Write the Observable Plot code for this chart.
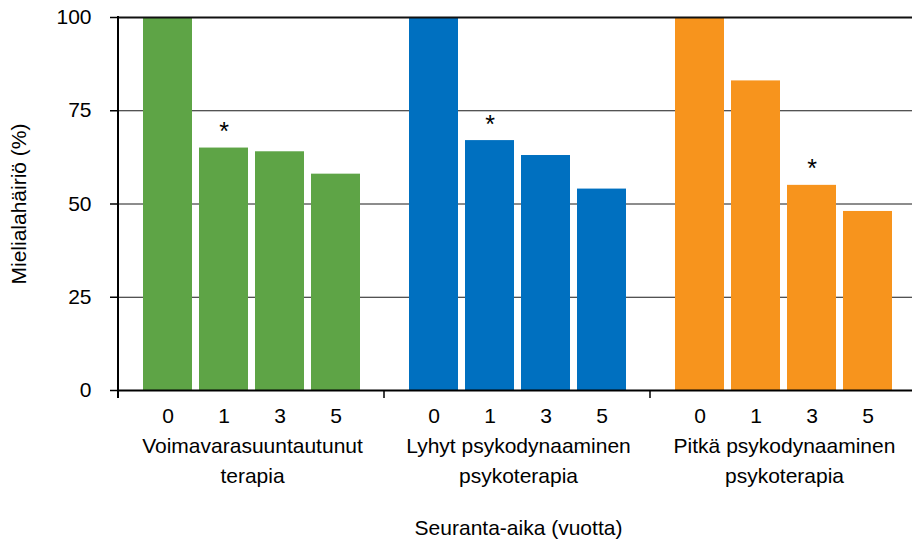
<!DOCTYPE html>
<html>
<head>
<meta charset="utf-8">
<script src="https://cdn.jsdelivr.net/npm/d3@7"></script>
<script src="https://cdn.jsdelivr.net/npm/@observablehq/plot@0.6"></script>
<style>
  html, body { margin: 0; padding: 0; background: #fff; overflow: hidden; }
  #chart { width: 912px; height: 544px; overflow: hidden; }
  #chart svg { max-width: none !important; }
</style>
</head>
<body>
<div id="chart"></div>
<script>
const groups = [
  "Voimavarasuuntautunut\nterapia",
  "Lyhyt psykodynaaminen\npsykoterapia",
  "Pitkä psykodynaaminen\npsykoterapia"
];
const years = ["0", "1", "3", "5"];
const voimavara = [100, 65, 64, 58];
const lyhyt = [100, 67, 63, 54];
const pitka = [100, 83, 55, 48];
const significantYear = ["1", "1", "3"];
const yTicks = [0, 25, 50, 75, 100];
const colors = ["#5ea446", "#0070c0", "#f7941d"];
const yLabel = "Mielialahäiriö (%)";
const xLabel = "Seuranta-aika (vuotta)";

const series = [voimavara, lyhyt, pitka];
const rows = groups.flatMap((g, i) => years.map((yr, j) => ({
  group: g, year: yr, value: series[i][j], star: significantYear[i] === yr ? "*" : ""
})));

const chart = Plot.plot({
  width: 918,
  height: 544,
  marginLeft: 118,
  marginRight: 0,
  marginTop: 17,
  marginBottom: 154,
  style: {fontFamily: "'Liberation Sans', Arial, sans-serif", fontSize: "21px", color: "#000", background: "#fff", maxWidth: "none"},
  fx: {domain: groups, padding: 0, axis: null},
  x: {domain: years, paddingInner: 0.121, paddingOuter: 0.404, axis: null},
  y: {domain: [0, 100], axis: null},
  color: {domain: groups, range: colors},
  marks: [
    Plot.ruleY(yTicks.filter(d => d > 0 && d < 100), {stroke: "#1a1a1a", strokeWidth: 1}),
    Plot.barY(rows, {fx: "group", x: "year", y: "value", fill: "group"}),
    Plot.ruleY(yTicks.filter(d => d === 100), {stroke: "#111", strokeWidth: 2}),
    Plot.ruleY(yTicks.filter(d => d === 0), {stroke: "#000", strokeWidth: 2}),
    Plot.text(rows.filter(d => d.star), {fx: "group", x: "year", y: "value", text: "star", dy: -16, fontSize: 25, fill: "#000"}),
    Plot.axisY({ticks: yTicks, tickSize: 9, tickPadding: 19, stroke: "#000", strokeWidth: 1.5, fontSize: 21,
      label: yLabel, labelAnchor: "center", labelOffset: 108, labelArrow: "none"}),
    Plot.axisX({tickSize: 0, tickPadding: 18, fontSize: 21, label: null}),
    Plot.axisFx({anchor: "bottom", tickSize: 0, tickPadding: 41, fontSize: 21, lineHeight: 1.43,
      label: xLabel, labelAnchor: "center", labelOffset: 144, labelArrow: "none"})
  ]
});

document.getElementById("chart").appendChild(chart);

// axis line on the left and group boundary ticks, positioned from Plot's own scales
const fx = chart.scale("fx");
const ys = chart.scale("y");
const svg = d3.select(chart);
const y0 = ys.apply ? ys.apply(0) : ys.range[0];
const y1 = ys.apply ? ys.apply(100) : ys.range[1];
const starts = fx.domain.map((g, i) => fx.range[0] + i * (fx.step ?? fx.bandwidth));
svg.append("line")
  .attr("x1", starts[0]).attr("x2", starts[0])
  .attr("y1", y1 - 1).attr("y2", y0 + 8)
  .attr("stroke", "#000").attr("stroke-width", 2);
svg.selectAll("line.gtick").data(starts.slice(1)).join("line")
  .attr("class", "gtick")
  .attr("x1", d => d).attr("x2", d => d)
  .attr("y1", y0).attr("y2", y0 + 8)
  .attr("stroke", "#000").attr("stroke-width", 1.5);
</script>
</body>
</html>
